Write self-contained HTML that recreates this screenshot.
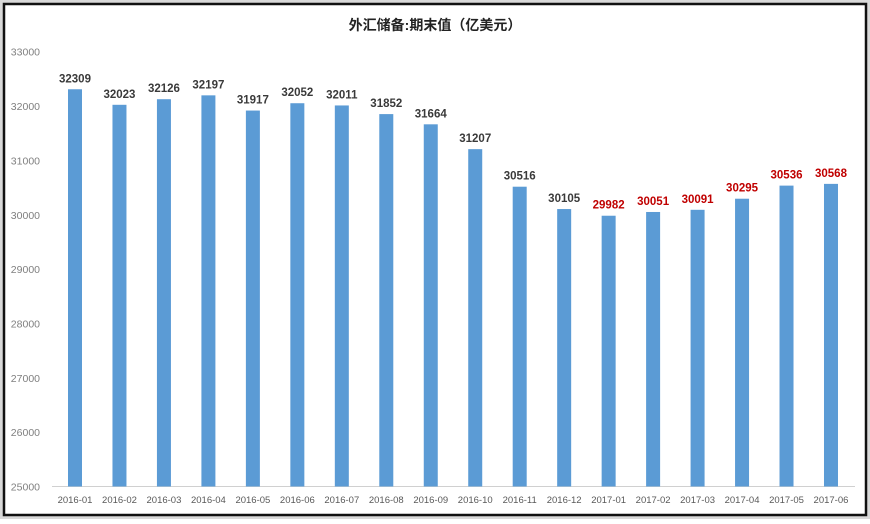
<!DOCTYPE html><html><head><meta charset="utf-8"><style>
body{margin:0;background:#fff;}
svg text{font-family:"Liberation Sans","Noto Sans CJK SC",sans-serif;}
</style></head><body>
<svg width="870" height="519" xmlns="http://www.w3.org/2000/svg">
<rect x="0" y="0" width="870" height="519" fill="#d9d9d9"/>
<rect x="4" y="4" width="862" height="511" fill="#fff" stroke="#111" stroke-width="2.5"/>
<text x="435" y="30" text-anchor="middle" font-size="14" font-weight="bold" fill="#222">外汇储备:期末值（亿美元）</text>
<g font-size="10.5" fill="#7f7f7f" text-anchor="end" id="y"></g>
<line x1="52" y1="486.5" x2="855" y2="486.5" stroke="#d0d0d0" stroke-width="1"/>
<g id="b"></g>
</svg>
<script>
var v=[32309,32023,32126,32197,31917,32052,32011,31852,31664,31207,30516,30105,29982,30051,30091,30295,30536,30568];
var ns="http://www.w3.org/2000/svg",s=document.querySelector('svg'),g=document.getElementById('b'),yg=document.getElementById('y');
function Y(x){return 486.5-(x-25000)*0.05435;}
for(var k=25000;k<=33000;k+=1000){var t=document.createElementNS(ns,'text');t.setAttribute('x',40);t.setAttribute('y',Y(k)+4);t.textContent=k;yg.appendChild(t);}
for(var i=0;i<18;i++){var c=75+i*44.47;
var r=document.createElementNS(ns,'rect');r.setAttribute('x',c-7);r.setAttribute('y',Y(v[i]));r.setAttribute('width',14);r.setAttribute('height',486.5-Y(v[i]));r.setAttribute('fill','#5b9bd5');g.appendChild(r);
var t=document.createElementNS(ns,'text');t.setAttribute('x',c);t.setAttribute('y',Y(v[i])-7);t.setAttribute('text-anchor','middle');t.setAttribute('font-size','11.5');t.setAttribute('font-weight','bold');t.setAttribute('fill',i>=12?'#c00000':'#3a3a3a');t.textContent=v[i];g.appendChild(t);
var l=document.createElementNS(ns,'text');l.setAttribute('x',c);l.setAttribute('y',503);l.setAttribute('text-anchor','middle');l.setAttribute('font-size','9.5');l.setAttribute('fill','#595959');l.textContent=(i<12?'2016-':'2017-')+('0'+((i%12)+1)).slice(-2);g.appendChild(l);}
</script>
</body></html>
